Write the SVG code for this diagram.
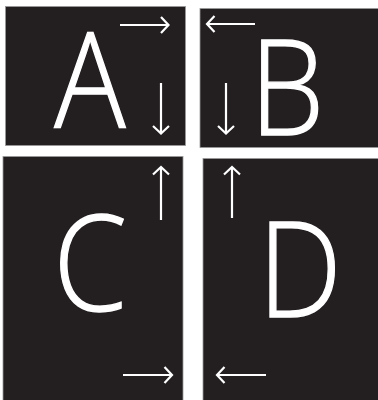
<svg xmlns="http://www.w3.org/2000/svg" width="378" height="400" viewBox="0 0 378 400">
<style>
.box{fill:#231f20;stroke:#9a9a9a;stroke-width:0.8}
.lbl{fill:#ffffff;stroke:#ffffff;stroke-width:1.3;font-family:"Open Sans","DejaVu Sans",sans-serif;font-weight:300;font-size:132px;text-anchor:middle}
.arr{fill:none;stroke:#ffffff;stroke-width:2.2;stroke-linecap:butt;stroke-linejoin:miter}
</style>
<rect width="378" height="400" fill="#ffffff"/>
<g id="A"><rect class="box" x="5.5" y="6.5" width="180" height="139"/><text class="lbl" transform="translate(90 128) scale(0.9 1)">A</text></g>
<g id="B"><rect class="box" x="200" y="8.5" width="179" height="139"/><text class="lbl" transform="translate(287 135) scale(0.9 1)">B</text></g>
<g id="C"><rect class="box" x="3" y="156.5" width="180" height="245"/><text class="lbl" transform="translate(90 311) scale(0.9 1)">C</text></g>
<g id="D"><rect class="box" x="203" y="158.5" width="176" height="243"/><text class="lbl" transform="translate(300 317) scale(0.9 1)">D</text></g>
<g id="connectors">
<path class="arr" d="M120 25H168M161 17L168.5 25L161 33"/>
<path class="arr" d="M255 24H207.5M214.5 16L207 24L214.5 32"/>
<path class="arr" d="M161 83V133M153 126L161 133.5L169 126"/>
<path class="arr" d="M226 83V133M218 126L226 133.5L234 126"/>
<path class="arr" d="M161 220V167.5M153 174.5L161 167L169 174.5"/>
<path class="arr" d="M232 218V167.5M224 174.5L232 167L240 174.5"/>
<path class="arr" d="M123 375H171.5M164.5 367L172 375L164.5 383"/>
<path class="arr" d="M266 375H217.5M224.5 367L217 375L224.5 383"/>
</g>
</svg>
